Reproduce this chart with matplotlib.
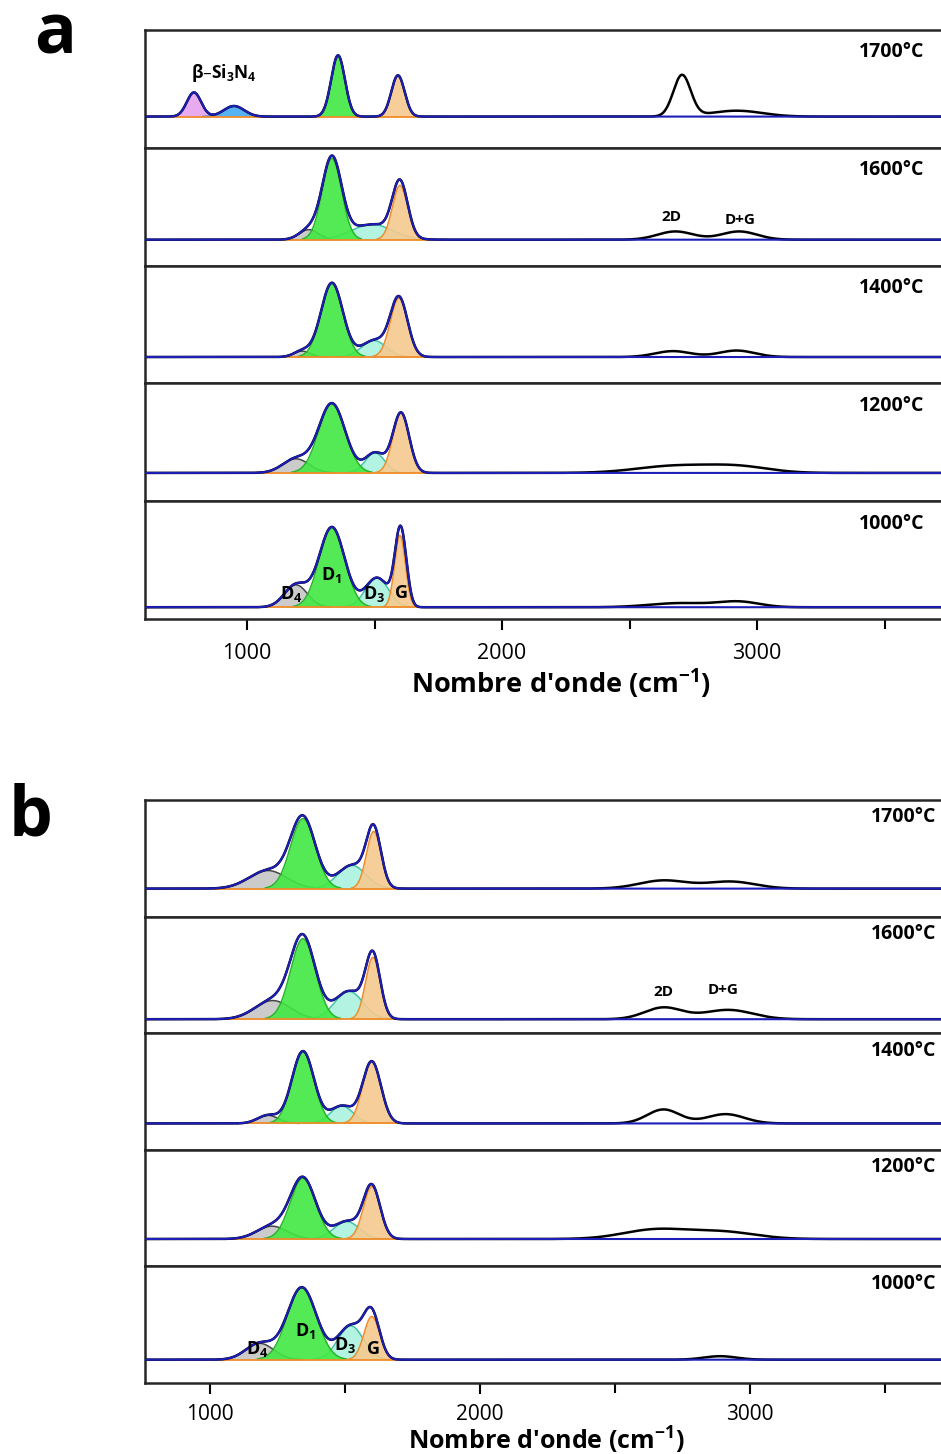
import numpy as np
import matplotlib
matplotlib.use("Agg")
import matplotlib.pyplot as plt
from matplotlib.ticker import FixedLocator
import matplotlib.transforms as mtransforms

plt.rcParams['font.family'] = ['Open Sans', 'DejaVu Sans']
plt.rcParams['mathtext.default'] = 'regular'

# ---------------- data ----------------
temps = ["1700°C", "1600°C", "1400°C", "1200°C", "1000°C"]
x_ticks = [1000, 2000, 3000]
x_minor = [1500, 2500, 3500]

# panel a : fitted bands  (centre cm-1, amplitude [axis-height units], sigma cm-1)
a_D4_pos = [1216, 1243, 1216, 1192, 1192]
a_D4_amp = [0.0, 0.085, 0.05, 0.12, 0.19]
a_D4_wid = [30, 38, 32, 52, 45]
a_D1_pos = [1357, 1333, 1333, 1333, 1333]
a_D1_amp = [0.52, 0.69, 0.63, 0.59, 0.68]
a_D1_wid = [27, 38, 43, 52, 50]
a_D3_pos = [1500, 1490, 1498, 1502, 1510]
a_D3_amp = [0.0, 0.13, 0.14, 0.17, 0.25]
a_D3_wid = [40, 80, 48, 38, 45]
a_G_pos = [1592, 1600, 1596, 1604, 1600]
a_G_amp = [0.35, 0.46, 0.50, 0.51, 0.61]
a_G_wid = [26, 30, 34, 32, 21]
a_D2_pos = [1620, 1620, 1620, 1620, 1622]
a_D2_amp = [0.0, 0.0, 0.0, 0.0, 0.10]
a_D2_wid = [18, 18, 18, 18, 18]
# beta-Si3N4 bands (1700 °C only)
si_pos = [792, 949]
si_amp = [0.205, 0.09]
si_wid = [28, 40]
# second-order bands (measured only)
a_2D_pos = [2706, 2680, 2670, 2680, 2700]
a_2D_amp = [0.35, 0.07, 0.05, 0.06, 0.035]
a_2D_wid = [34, 70, 70, 150, 120]
a_DG_pos = [2920, 2930, 2920, 2930, 2930]
a_DG_amp = [0.05, 0.07, 0.055, 0.05, 0.045]
a_DG_wid = [100, 70, 70, 120, 80]

# panel b
b_D4_pos = [1215, 1233, 1215, 1230, 1185]
b_D4_amp = [0.155, 0.16, 0.07, 0.11, 0.14]
b_D4_wid = [70, 66, 38, 56, 52]
b_D1_pos = [1345, 1345, 1345, 1345, 1341]
b_D1_amp = [0.60, 0.69, 0.62, 0.52, 0.62]
b_D1_wid = [46, 46, 41, 47, 54]
b_D3_pos = [1526, 1515, 1489, 1507, 1522]
b_D3_amp = [0.20, 0.24, 0.15, 0.15, 0.29]
b_D3_wid = [52, 52, 42, 47, 47]
b_G_pos = [1607, 1604, 1600, 1600, 1600]
b_G_amp = [0.49, 0.53, 0.53, 0.45, 0.37]
b_G_wid = [27, 27, 34, 31, 29]
b_2D_pos = [2680, 2680, 2680, 2650, 2900]
b_2D_amp = [0.07, 0.10, 0.12, 0.08, 0.0]
b_2D_wid = [90, 70, 60, 120, 60]
b_DG_pos = [2930, 2920, 2910, 2900, 2890]
b_DG_amp = [0.06, 0.08, 0.08, 0.06, 0.03]
b_DG_wid = [90, 90, 70, 120, 60]

# ---------------- styles / layout ----------------
fill_col = {"D4": "#c6c6c6", "D1": "#41e843", "D3": "#aaf2de", "G": "#f6c98e",
            "Si1": "#e7a2ee", "Si2": "#45aaf2"}
edge_col = {"D4": "#454545", "D1": "#25b52a", "D3": "#3fc4a4", "G": "#f08c2a",
            "Si1": "#c277d4", "Si2": "#2a82d6"}
env_col = "#1d1db8"
a_base = [0.265, 0.22, 0.224, 0.24, 0.10]
b_base = [0.24, 0.12, 0.226, 0.235, 0.20]

W, H = 941, 1454
fig = plt.figure(figsize=(W / 100, H / 100), dpi=100)


def g(x, p, a, w):
    return a * np.exp(-0.5 * ((x - p) / w) ** 2)


def draw_panel(top_px, bot_px, x0, xmax, px_per_cm, comps, extras, bases,
               label, label_xy, temp_x, temp_y, xlab_frac, xlab_pad,
               tick_pad, tick_size, xlab_size):
    n = len(temps)
    hpx = (bot_px - top_px) / n
    left = 145 / W
    width = (xmax - x0) * px_per_cm / W
    x = np.linspace(x0, xmax, 4000)
    axes = []
    zo = {"D4": 2, "D3": 3, "D1": 4, "G": 5, "Si1": 4, "Si2": 4}
    for i in range(n):
        yb = 1 - (top_px + (i + 1) * hpx) / H
        ax = fig.add_axes([left, yb, width, hpx / H])
        f = bases[i]
        ax.set_xlim(x0, xmax)
        ax.set_ylim(-f, 1 - f)
        ax.set_yticks([])
        for s in ax.spines.values():
            s.set_linewidth(1.8)
            s.set_color("#262626")
        env = np.zeros_like(x)
        total_fill = np.zeros_like(x)
        for name, pos, amp, wid, filled in comps:
            if amp[i] <= 0:
                continue
            y = g(x, pos[i], amp[i], wid[i])
            env += y
            if filled:
                total_fill += y
        meas = env.copy()
        for pos, amp, wid in extras:
            meas += g(x, pos[i], amp[i], wid[i])
        for name, pos, amp, wid, filled in comps:
            if amp[i] <= 0 or not filled:
                continue
            y = g(x, pos[i], amp[i], wid[i])
            m = y > amp[i] * 0.01
            ax.fill_between(x[m], 0, y[m], color=fill_col[name], alpha=0.9,
                            lw=0, zorder=zo[name])
            ax.plot(x[m], y[m], color=edge_col[name], lw=1.1, zorder=zo[name] + 0.5)
        m = total_fill > 0.003
        ax.plot(x[m], np.zeros(m.sum()), color="#f08c2a", lw=1.3, zorder=6)
        ax.plot(x, meas, color="black", lw=1.8, zorder=7)
        ax.plot(x, env, color=env_col, lw=1.5, zorder=8)
        tr = mtransforms.blended_transform_factory(ax.transData, ax.transAxes)
        ax.text(temp_x, temp_y, temps[i], transform=tr, ha="left", va="center",
                fontsize=14, fontweight="bold", zorder=20)
        ax.xaxis.set_major_locator(FixedLocator(x_ticks))
        ax.xaxis.set_minor_locator(FixedLocator(x_minor))
        if i < n - 1:
            ax.tick_params(axis="x", which="both", bottom=False, labelbottom=False)
        else:
            ax.tick_params(axis="x", which="major", direction="out", length=8,
                           width=1.5, labelsize=tick_size, pad=tick_pad)
            ax.tick_params(axis="x", which="minor", direction="out", length=7,
                           width=1.5)
            ax.set_xlabel("Nombre d'onde (cm$^{-1}$)", fontsize=xlab_size,
                          fontweight="bold", labelpad=xlab_pad)
            ax.xaxis.label.set_x(xlab_frac)
        axes.append(ax)
    fig.text(label_xy[0] / W, 1 - label_xy[1] / H, label, fontsize=50,
             fontweight="bold", ha="center", va="baseline")
    return axes


comps_a = [("D4", a_D4_pos, a_D4_amp, a_D4_wid, True),
           ("D3", a_D3_pos, a_D3_amp, a_D3_wid, True),
           ("D1", a_D1_pos, a_D1_amp, a_D1_wid, True),
           ("G", a_G_pos, a_G_amp, a_G_wid, True),
           ("D2", a_D2_pos, a_D2_amp, a_D2_wid, False),
           ("Si1", [si_pos[0]] + [0] * 4, [si_amp[0]] + [0] * 4, [si_wid[0]] * 5, True),
           ("Si2", [si_pos[1]] + [0] * 4, [si_amp[1]] + [0] * 4, [si_wid[1]] * 5, True)]
extras_a = [(a_2D_pos, a_2D_amp, a_2D_wid), (a_DG_pos, a_DG_amp, a_DG_wid)]
comps_b = [("D4", b_D4_pos, b_D4_amp, b_D4_wid, True),
           ("D3", b_D3_pos, b_D3_amp, b_D3_wid, True),
           ("D1", b_D1_pos, b_D1_amp, b_D1_wid, True),
           ("G", b_G_pos, b_G_amp, b_G_wid, True)]
extras_b = [(b_2D_pos, b_2D_amp, b_2D_wid), (b_DG_pos, b_DG_amp, b_DG_wid)]

axa = draw_panel(30, 619, 600, 4000, 0.255, comps_a, extras_a, a_base,
                 "a", (55, 54), 3400, 0.81, 0.48, 2, 9, 15.5, 19.5)
axb = draw_panel(800, 1383, 760, 4000, 0.27, comps_b, extras_b, b_base,
                 "b", (31, 836), 3450, 0.85, 0.459, 0, 7, 15, 18)

# annotations
kw = dict(fontweight="bold", ha="center", va="center", zorder=20)
axa[0].text(si_pos[0] + 118, 0.37, "β–Si$_3$N$_4$", fontsize=12.5, **kw)
axa[1].text(2665, 0.19, "2D", fontsize=11, **kw)
axa[1].text(2935, 0.17, "D+G", fontsize=11, **kw)
axb[1].text(2680, 0.23, "2D", fontsize=11, **kw)
axb[1].text(2900, 0.25, "D+G", fontsize=11, **kw)

la = axa[-1]
la.text(1175, 0.11, "D$_4$", fontsize=13, **kw)
la.text(1330, 0.27, "D$_1$", fontsize=13, **kw)
la.text(1500, 0.11, "D$_3$", fontsize=13, **kw)
la.text(1605, 0.12, "G", fontsize=13, **kw)
lb = axb[-1]
lb.text(1175, 0.09, "D$_4$", fontsize=13, **kw)
lb.text(1355, 0.25, "D$_1$", fontsize=13, **kw)
lb.text(1500, 0.13, "D$_3$", fontsize=13, **kw)
lb.text(1605, 0.09, "G", fontsize=13, **kw)

fig.savefig("out.png", dpi=100)
